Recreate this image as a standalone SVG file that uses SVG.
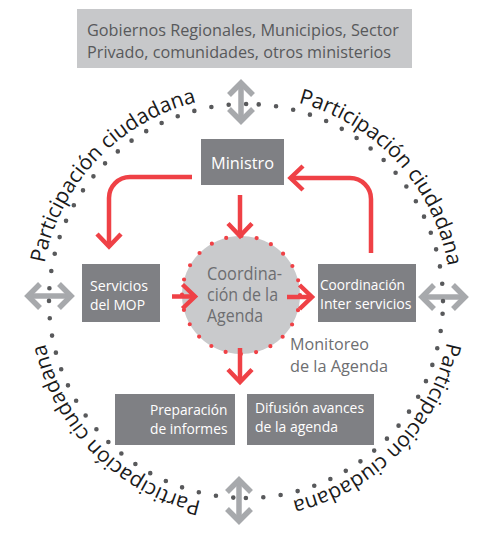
<svg xmlns="http://www.w3.org/2000/svg" width="477" height="533" viewBox="0 0 477 533">
<style>
  .lbl { font-family: "Open Sans", "Noto Sans", "Liberation Sans", sans-serif; }
  .dark { fill: #7f8084; }
  .wt { fill: #ffffff; font-size: 15px; }
  .gt { fill: #6d6e71; }
  .arc { font-family: "Open Sans", "Noto Sans", sans-serif; font-size: 21px; fill: #1a1a1a; }
  .red { fill: none; stroke: #ef4146; stroke-width: 4.5; }
  .gray { fill: none; stroke: #a7a9ac; stroke-width: 5.5; }
  .ring { fill: none; stroke: #58595b; stroke-width: 4.6; stroke-linecap: round; stroke-dasharray: 0 17.455; }
</style>
<defs>
  <marker id="chevR" markerUnits="userSpaceOnUse" viewBox="-20 -20 40 40" markerWidth="40" markerHeight="40" refX="0" refY="0" orient="auto" overflow="visible">
    <path d="M-12.5,-12 L0,0 L-12.5,12" fill="none" stroke="#ef4146" stroke-width="4.5"/>
  </marker>
  <marker id="chevG" markerUnits="userSpaceOnUse" viewBox="-20 -20 40 40" markerWidth="40" markerHeight="40" refX="0" refY="0" orient="auto-start-reverse" overflow="visible">
    <path d="M-12,-12 L0,0 L-12,12" fill="none" stroke="#a7a9ac" stroke-width="5.5"/>
  </marker>
  <path id="pUL" d="M41.09,307.08 A205,205 0 0 1 239.92,96.09"/>
  <path id="pUR" d="M254.94,96.19 A205,205 0 0 1 450.81,309.94"/>
  <path id="pLR" d="M450.99,298.49 A205,205 0 0 1 248.50,505.99"/>
  <path id="pLL" d="M244.93,506.00 A205,205 0 0 1 41.00,299.93"/>
</defs>

<rect width="477" height="533" fill="#ffffff"/>

<g id="participation-arrows">
  <path class="gray" d="M241,83 V121" marker-start="url(#chevG)" marker-end="url(#chevG)"/>
  <path class="gray" d="M239,480 V521" marker-start="url(#chevG)" marker-end="url(#chevG)"/>
  <path class="gray" d="M28,296 H71" marker-start="url(#chevG)" marker-end="url(#chevG)"/>
  <path class="gray" d="M422,297 H465" marker-start="url(#chevG)" marker-end="url(#chevG)"/>
</g>

<g id="ring">
  <path class="ring" d="M442.59,313.71 A197,197 0 0 1 245.83,498.00"/>
  <path class="ring" d="M233.29,497.59 A197,197 0 0 1 49.00,300.83"/>
  <path class="ring" d="M49.41,288.29 A197,197 0 0 1 246.17,104.00"/>
  <path class="ring" d="M258.71,104.41 A197,197 0 0 1 443.00,301.17"/>
</g>

<g id="participacion-texts" class="arc">
  <text><textPath href="#pUL" startOffset="50%" text-anchor="middle">Participación ciudadana</textPath></text>
  <text><textPath href="#pUR" startOffset="50%" text-anchor="middle">Participación ciudadana</textPath></text>
  <text><textPath href="#pLR" startOffset="50%" text-anchor="middle">Participación ciudadana</textPath></text>
  <text><textPath href="#pLL" startOffset="50%" text-anchor="middle">Participación ciudadana</textPath></text>
</g>

<g id="actores">
  <rect x="77" y="9" width="335" height="59" fill="#c7c8ca"/>
  <text class="lbl" font-size="17" fill="#58595b" x="87" y="36" textLength="312" lengthAdjust="spacingAndGlyphs">Gobiernos Regionales, Municipios, Sector</text>
  <text class="lbl" font-size="17" fill="#58595b" x="87" y="57.5" textLength="304" lengthAdjust="spacingAndGlyphs">Privado, comunidades, otros ministerios</text>
</g>

<g id="ministro">
  <rect class="dark" x="201" y="139" width="83" height="46"/>
  <text class="lbl wt" font-size="16" x="211" y="168.5" textLength="63" lengthAdjust="spacingAndGlyphs" style="font-size:16px">Ministro</text>
</g>

<g id="servicios">
  <rect class="dark" x="82" y="264" width="78" height="58"/>
  <text class="lbl wt" x="90" y="291" textLength="58" lengthAdjust="spacingAndGlyphs">Servicios</text>
  <text class="lbl wt" x="90" y="309.5" textLength="55" lengthAdjust="spacingAndGlyphs">del MOP</text>
</g>

<g id="coordinacion-inter">
  <rect class="dark" x="318" y="264" width="98" height="58"/>
  <text class="lbl wt" x="320" y="290" textLength="85" lengthAdjust="spacingAndGlyphs">Coordinación</text>
  <text class="lbl wt" x="320" y="308.5" textLength="91.5" lengthAdjust="spacingAndGlyphs">Inter servicios</text>
</g>

<g id="agenda">
  <circle cx="241" cy="295" r="59" fill="#c9cacc"/>
  <circle cx="241" cy="295" r="59" fill="none" stroke="#ef4146" stroke-width="4.2" stroke-linecap="round" stroke-dasharray="0 15.446"/>
  <text class="lbl gt" font-size="17.5" x="207" y="279.5" textLength="75" lengthAdjust="spacingAndGlyphs">Coordina-</text>
  <text class="lbl gt" font-size="17.5" x="207" y="300.5" textLength="71" lengthAdjust="spacingAndGlyphs">ción de la</text>
  <text class="lbl gt" font-size="17.5" x="207" y="322" textLength="56" lengthAdjust="spacingAndGlyphs">Agenda</text>
</g>

<g id="monitoreo">
  <text class="lbl gt" font-size="16" x="290" y="350" textLength="79" lengthAdjust="spacingAndGlyphs">Monitoreo</text>
  <text class="lbl gt" font-size="16" x="290" y="371.5" textLength="98" lengthAdjust="spacingAndGlyphs">de la Agenda</text>
</g>

<g id="preparacion">
  <rect class="dark" x="115" y="394" width="120" height="51"/>
  <text class="lbl wt" x="150" y="415" textLength="77.5" lengthAdjust="spacingAndGlyphs">Preparación</text>
  <text class="lbl wt" x="150" y="434" textLength="77.5" lengthAdjust="spacingAndGlyphs">de informes</text>
</g>

<g id="difusion">
  <rect class="dark" x="247" y="394" width="127" height="51"/>
  <text class="lbl wt" x="255" y="413" textLength="109" lengthAdjust="spacingAndGlyphs">Difusión avances</text>
  <text class="lbl wt" x="255" y="432" textLength="83" lengthAdjust="spacingAndGlyphs">de la agenda</text>
</g>

<g id="connectors">
  <path class="red" d="M192,177 H130 A21,21 0 0 0 109,198 V246.5" marker-end="url(#chevR)"/>
  <path class="red" d="M371,253 V199 A21,21 0 0 0 350,178 H290.5" marker-end="url(#chevR)"/>
  <path class="red" d="M240,195 V236" marker-end="url(#chevR)"/>
  <path class="red" d="M172,296.5 H195" marker-end="url(#chevR)"/>
  <path class="red" d="M287,297 H312" marker-end="url(#chevR)"/>
  <path class="red" d="M240,348 V382" marker-end="url(#chevR)"/>
</g>
</svg>
